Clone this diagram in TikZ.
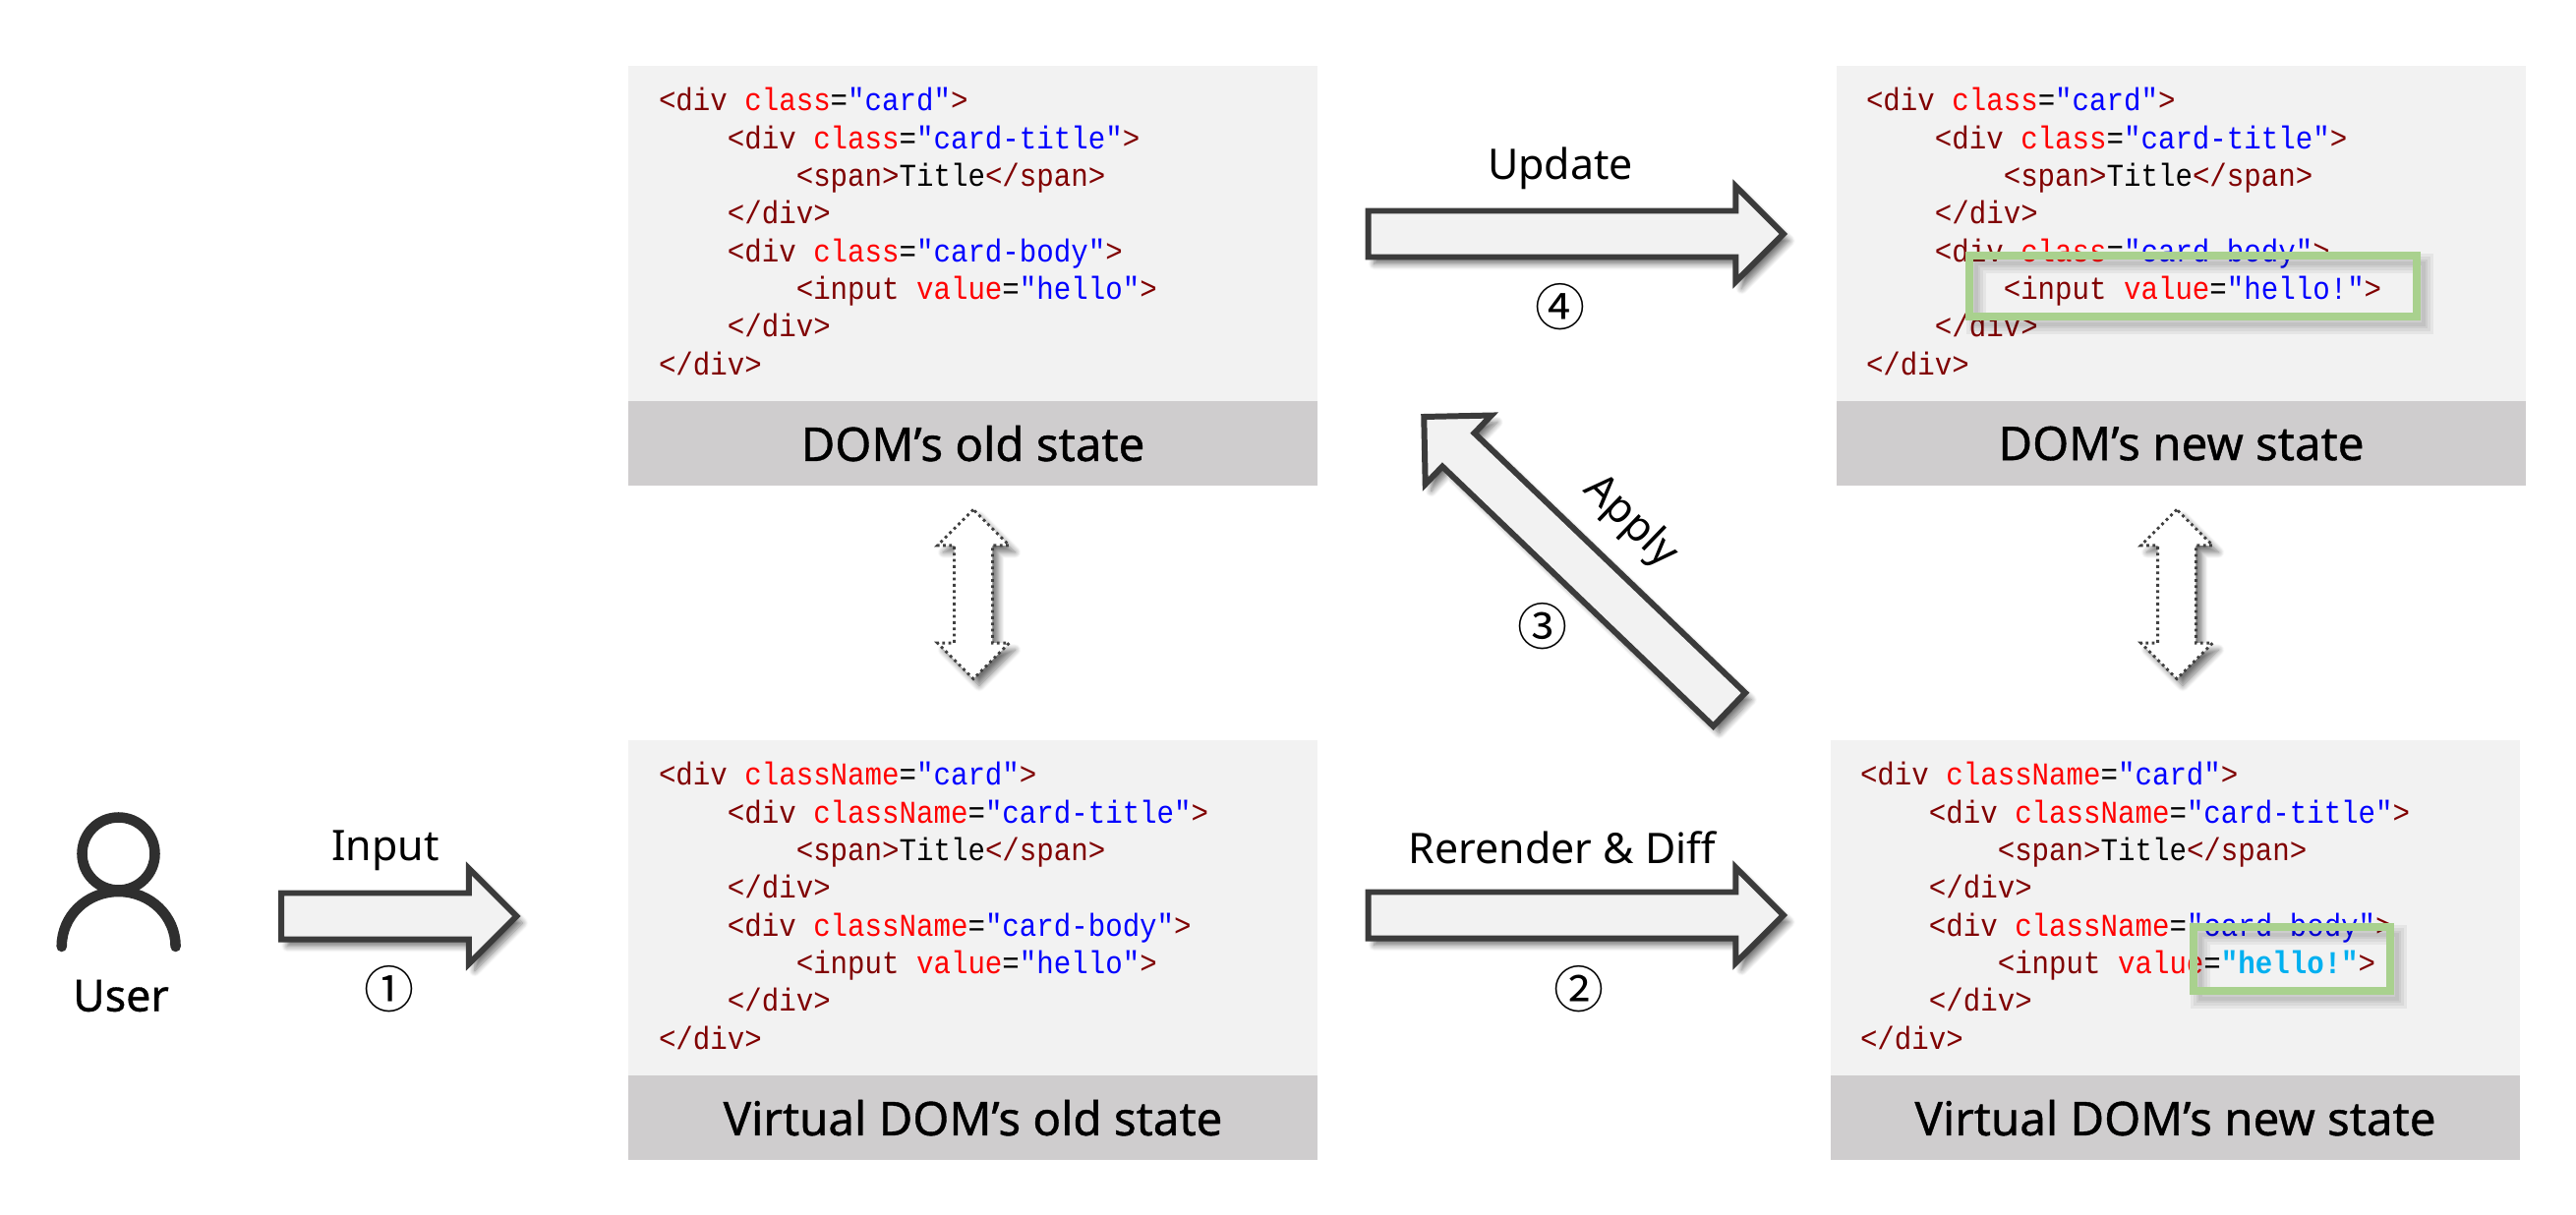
\documentclass[tikz,border=0pt]{standalone}
\usepackage{fontspec}
\usetikzlibrary{positioning,shapes.arrows,shadows.blur}
\setmainfont{Noto Sans}
\newfontfamily\codefam[FakeStretch=0.9]{Liberation Mono}
\newfontfamily\titlefam[FakeBold=0.8]{Noto Sans}
\newfontfamily\cjk{Noto Sans CJK SC}
\definecolor{tagcol}{HTML}{800000}
\definecolor{attrcol}{HTML}{FF0000}
\definecolor{valcol}{HTML}{0000FF}
\definecolor{newcol}{HTML}{00B0F0}
\definecolor{bodycol}{HTML}{F2F2F2}
\definecolor{barcol}{HTML}{CFCDCE}
\definecolor{greencol}{HTML}{A9D18E}
\definecolor{edgecol}{HTML}{3B3B3B}
\newcommand{\codefont}{\codefam\fontsize{9.2pt}{10.9pt}\selectfont}
\newcommand{\tagn}[1]{\textcolor{tagcol}{#1}}
\newcommand{\attr}[1]{\textcolor{attrcol}{#1}}
\newcommand{\vall}[1]{\textcolor{valcol}{#1}}
\newcommand{\opendiv}[2]{\tagn{<div }\attr{#1}=\vall{"#2"}\tagn{>}}
\newcommand{\inpart}[1]{\phantom{xxxxxxxx}\tagn{<input }#1\tagn{>}}
\newcommand{\codeblock}[2]{\opendiv{#1}{card}\\
\phantom{xxxx}\opendiv{#1}{card-title}\\
\phantom{xxxxxxxx}\tagn{<span>}Title\tagn{</span>}\\
\phantom{xxxx}\tagn{</div>}\\
\phantom{xxxx}\opendiv{#1}{card-body}\\
\inpart{#2}\\
\phantom{xxxx}\tagn{</div>}\\
\tagn{</div>}}
\newcommand{\frameshade}[2]{\foreach \w in {1,2.5,4,5.5}
  {\draw[black,opacity=0.05,line width=\w pt,shift={(7,8)}] #1 rectangle #2;}}
\tikzset{
  panelbody/.style={fill=bodycol,inner sep=0,outer sep=0,minimum width=7.01cm,minimum height=3.41cm},
  panelbar/.style={fill=barcol,inner sep=0,outer sep=0,minimum width=7.01cm,minimum height=0.86cm,font=\titlefam\fontsize{13.5pt}{15pt}\selectfont},
  codetext/.style={anchor=base west,inner sep=0,outer sep=0,align=left,font=\codefont},
  arrowshadow/.style={blur shadow={shadow xshift=0.06cm,shadow yshift=-0.07cm,shadow blur steps=8,shadow blur radius=0.06cm,shadow opacity=55}},
  bigarrow/.style={single arrow,draw=edgecol,fill=bodycol,line width=1.7pt,inner sep=0,inner ysep=0.205cm,outer sep=0,
    minimum height=4.22cm,minimum width=0.92cm,single arrow head extend=0.25cm,single arrow tip angle=90,arrowshadow},
  syncarrow/.style={double arrow,draw=black!75,fill=white,densely dotted,line width=0.8pt,inner sep=0,inner ysep=0.18cm,outer sep=0,
    minimum height=1.72cm,minimum width=0.7cm,double arrow head extend=0.17cm,double arrow tip angle=90,rotate=90,arrowshadow},
  steplabel/.style={font=\fontsize{12.2pt}{14pt}\selectfont},
  stepnum/.style={font=\cjk\fontsize{14.5pt}{16pt}\selectfont},
  hlframe/.style={draw=greencol,line width=2.3pt,inner sep=0,outer sep=0}
}
\begin{document}
\begin{tikzpicture}[x=0.01cm,y=-0.01cm]
\useasboundingbox (0,0) rectangle (2620,1236);
\node[panelbody] (oldbody) at (989.5,237.5) {};
\node[panelbar,below=0pt of oldbody] (oldbar) {DOM’s old state};
\node[panelbody] (newbody) at (2218.5,237.5) {};
\node[panelbar,below=0pt of newbody] (newbar) {DOM’s new state};
\node[panelbody] (voldbody) at (989.5,923.5) {};
\node[panelbar,below=0pt of voldbody] (voldbar) {Virtual DOM’s old state};
\node[panelbody] (vnewbody) at (2212.5,923.5) {};
\node[panelbar,below=0pt of vnewbody] (vnewbar) {Virtual DOM’s new state};
\node[codetext] (oldcode) at (670,381) {\codeblock{class}{\attr{value}=\vall{"hello"}}};
\node[codetext] (newcode) at (1898,381) {\codeblock{class}{\attr{value}=\vall{"hello!"}}};
\node[codetext] (voldcode) at (670,1067) {\codeblock{className}{\attr{value}=\vall{"hello"}}};
\node[codetext] (vnewcode) at (1892,1067) {\codeblock{className}{\attr{value}=\textcolor{newcol}{\textbf{"hello!"}}}};
\frameshade{(2003,260)}{(2458,322)}
\node[hlframe,minimum width=4.55cm,minimum height=0.62cm] (newframe) at (2230.5,291) {};
\frameshade{(2231,943)}{(2431,1008)}
\node[hlframe,minimum width=2cm,minimum height=0.65cm] (vnewframe) at (2331,975.5) {};
\draw[draw=edgecol!80!black,line width=3pt,line cap=round] (120.5,868.5) ellipse [x radius=37,y radius=37];
\draw[draw=edgecol!80!black,line width=3pt,line cap=round] (62.7,963) .. controls (62.7,932) and (88,907) .. (120.5,907) .. controls (153,907) and (178.6,932) .. (178.6,963);
\node[font=\titlefam\fontsize{12.7pt}{14pt}\selectfont] (user) at (123,1013) {User};
\node[bigarrow,minimum height=2.39cm] (inputarrow) at (394,932) {};
\node[bigarrow] (rerenderarrow) at (1591,931) {};
\node[bigarrow] (updatearrow) at (1591,238) {};
\node[bigarrow,rotate=136.2,minimum height=4.3cm] (applyarrow) at (1612,581) {};
\node[syncarrow] (leftsync) at (990,604.5) {};
\node[syncarrow] (rightsync) at (2214,604.5) {};
\node[steplabel] (inputlabel) at (392,865) {Input};
\node[steplabel] (rerenderlabel) at (1589,862) {Rerender \& Diff};
\node[steplabel] (updatelabel) at (1587,171) {Update};
\node[steplabel,rotate=-44] (applylabel) at (1658,531) {Apply};
\node[stepnum] (stepone) at (396,1006) {①};
\node[stepnum] (steptwo) at (1606,1006) {②};
\node[stepnum] (stepthree) at (1569,637) {③};
\node[stepnum] (stepfour) at (1587,312) {④};
\end{tikzpicture}
\end{document}
